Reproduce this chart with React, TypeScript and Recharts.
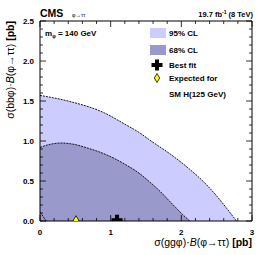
import React from "react";
import { ComposedChart, Area, Line, Scatter, XAxis, YAxis } from "recharts";

// 95% CL outer boundary (x: sigma(ggphi)B, y: sigma(bbphi)B) [pb]
const cl95 = [
  { x: 0, y: 1.57 },
  { x: 0.44, y: 1.49 },
  { x: 0.915, y: 1.35 },
  { x: 1.2, y: 1.21 },
  { x: 1.414, y: 1.1 },
  { x: 1.556, y: 1.01 },
  { x: 1.885, y: 0.81 },
  { x: 2.1, y: 0.66 },
  { x: 2.36, y: 0.45 },
  { x: 2.55, y: 0.26 },
  { x: 2.64, y: 0.16 },
  { x: 2.72, y: 0.07 },
  { x: 2.78, y: 0 },
];

// 68% CL outer boundary
const cl68 = [
  { x: 0, y: 0.92 },
  { x: 0.15, y: 0.96 },
  { x: 0.3, y: 0.975 },
  { x: 0.5, y: 0.955 },
  { x: 0.68, y: 0.91 },
  { x: 0.85, y: 0.86 },
  { x: 1.01, y: 0.8 },
  { x: 1.22, y: 0.7 },
  { x: 1.414, y: 0.59 },
  { x: 1.55, y: 0.49 },
  { x: 1.7, y: 0.37 },
  { x: 1.82, y: 0.26 },
  { x: 1.93, y: 0.16 },
  { x: 2.02, y: 0.08 },
  { x: 2.12, y: 0 },
];

// small inner 68% contour near the origin
const cl68Inner = [
  { x: 0, y: 0.11 },
  { x: 0.09, y: 0 },
];

const bestFit = [{ x: 1.09, y: 0.01 }];
const expectedSM = [{ x: 0.51, y: 0.01 }];

const xTicks = [0, 0.2, 0.4, 0.6, 0.8, 1, 1.2, 1.4, 1.6, 1.8, 2, 2.2, 2.4, 2.6, 2.8, 3];
const xMajor = [0, 1, 2, 3];
const yTicks = [
  0, 0.1, 0.2, 0.3, 0.4, 0.5, 0.6, 0.7, 0.8, 0.9, 1, 1.1, 1.2, 1.3, 1.4, 1.5, 1.6, 1.7, 1.8, 1.9, 2,
  2.1, 2.2, 2.3, 2.4, 2.5,
];
const yMajor = [0, 0.5, 1, 1.5, 2, 2.5];

const legendLabels = ["95% CL", "68% CL", "Best fit", "Expected for", "SM H(125 GeV)"];

const FONT = "'Liberation Sans', Arial, Helvetica, sans-serif";
const C95 = "#ccccff";
const C68 = "#9999cc";

const isMajor = (v: number, list: number[]) => list.some((m) => Math.abs(m - v) < 1e-6);

const bottomTick = (p: any) => {
  const { x, y, payload } = p;
  const major = isMajor(payload.value, xMajor);
  return (
    <g>
      <line x1={x} x2={x} y1={y} y2={y - (major ? 6 : 3)} stroke="#000" strokeWidth={0.8} />
      {major && (
        <text x={x} y={y + 14} textAnchor="middle" fontSize={8} fontWeight="bold" fontFamily={FONT} fill="#000">
          {String(payload.value)}
        </text>
      )}
    </g>
  );
};

const topTick = (p: any) => {
  const { x, y, payload } = p;
  const major = isMajor(payload.value, xMajor);
  return <line x1={x} x2={x} y1={y} y2={y + (major ? 6 : 3)} stroke="#000" strokeWidth={0.8} />;
};

const leftTick = (p: any) => {
  const { x, y, payload } = p;
  const major = isMajor(payload.value, yMajor);
  return (
    <g>
      <line x1={x} x2={x + (major ? 6 : 3)} y1={y} y2={y} stroke="#000" strokeWidth={0.8} />
      {major && (
        <text x={x - 6} y={y + 3} textAnchor="end" fontSize={8} fontWeight="bold" fontFamily={FONT} fill="#000">
          {Number(payload.value).toFixed(1)}
        </text>
      )}
    </g>
  );
};

const rightTick = (p: any) => {
  const { x, y, payload } = p;
  const major = isMajor(payload.value, yMajor);
  return <line x1={x} x2={x - (major ? 6 : 3)} y1={y} y2={y} stroke="#000" strokeWidth={0.8} />;
};

const Cross = ({ cx, cy }: { cx: number; cy: number }) => (
  <g>
    <rect x={cx - 5.5} y={cy - 2} width={11} height={4} fill="#000" />
    <rect x={cx - 2} y={cy - 5.5} width={4} height={11} fill="#000" />
  </g>
);

const Diamond = ({ cx, cy }: { cx: number; cy: number }) => (
  <polygon
    points={`${cx},${cy - 4.5} ${cx + 2.7},${cy} ${cx},${cy + 4.5} ${cx - 2.7},${cy}`}
    fill="#ffff00"
    stroke="#000"
    strokeWidth={0.8}
  />
);

export default function App() {
  return (
    <div style={{ position: "absolute", left: 0, top: 0, width: 266, height: 255, background: "#fff" }}>
      <ComposedChart width={266} height={255} margin={{ top: 20, right: 13, bottom: 0, left: 0 }}>
        <XAxis
          dataKey="x"
          type="number"
          domain={[0, 3]}
          ticks={xTicks}
          interval={0}
          allowDataOverflow
          height={34}
          tickSize={0}
          tickMargin={0}
          tickLine={false}
          axisLine={{ stroke: "#000", strokeWidth: 1 }}
          tick={bottomTick}
        />
        <XAxis
          xAxisId="top"
          orientation="top"
          dataKey="x"
          type="number"
          domain={[0, 3]}
          ticks={xTicks}
          interval={0}
          allowDataOverflow
          height={1}
          tickSize={0}
          tickMargin={0}
          tickLine={false}
          axisLine={{ stroke: "#000", strokeWidth: 1 }}
          tick={topTick}
        />
        <YAxis
          type="number"
          domain={[0, 2.5]}
          ticks={yTicks}
          interval={0}
          allowDataOverflow
          width={40}
          tickSize={0}
          tickMargin={0}
          tickLine={false}
          axisLine={{ stroke: "#000", strokeWidth: 1 }}
          tick={leftTick}
        />
        <YAxis
          yAxisId="right"
          orientation="right"
          type="number"
          domain={[0, 2.5]}
          ticks={yTicks}
          interval={0}
          allowDataOverflow
          width={1}
          tickSize={0}
          tickMargin={0}
          tickLine={false}
          axisLine={{ stroke: "#000", strokeWidth: 1 }}
          tick={rightTick}
        />
        <Area
          data={cl95}
          dataKey="y"
          type="monotone"
          fill={C95}
          fillOpacity={1}
          stroke="#000"
          strokeWidth={0.9}
          strokeDasharray="2 1"
          baseValue={0}
          dot={false}
          activeDot={false}
          isAnimationActive={false}
        />
        <Area
          data={cl68}
          dataKey="y"
          type="monotone"
          fill={C68}
          fillOpacity={1}
          stroke="#000"
          strokeWidth={0.9}
          strokeDasharray="2 1"
          baseValue={0}
          dot={false}
          activeDot={false}
          isAnimationActive={false}
        />
        <Area
          xAxisId="top"
          yAxisId="right"
          data={cl95}
          dataKey="y"
          type="linear"
          fill="none"
          stroke="none"
          dot={false}
          activeDot={false}
          isAnimationActive={false}
        />
        <Line
          data={cl68Inner}
          dataKey="y"
          type="linear"
          stroke="#000"
          strokeWidth={0.9}
          strokeDasharray="2 1"
          dot={false}
          activeDot={false}
          isAnimationActive={false}
        />
        <Scatter data={expectedSM} dataKey="y" shape={(p: any) => <Diamond cx={p.cx} cy={p.cy} />} isAnimationActive={false} />
        <Scatter data={bestFit} dataKey="y" shape={(p: any) => <Cross cx={p.cx} cy={p.cy} />} isAnimationActive={false} />
      </ComposedChart>
      <svg
        width={266}
        height={255}
        style={{ position: "absolute", left: 0, top: 0, pointerEvents: "none" }}
        fontFamily={FONT}
      >
        <text x={40} y={17} fontSize={10.5} fontWeight="bold" fill="#000">CMS</text>
        <text x={72} y={17} fontSize={5.5} fill="#000">φ→ττ</text>
        <text x={253} y={17} fontSize={7.5} fontWeight="bold" textAnchor="end" fill="#000">
          19.7 fb<tspan dy={-3} fontSize={5}>-1</tspan>
          <tspan dy={3}> (8 TeV)</tspan>
        </text>
        <text x={45} y={36} fontSize={8} fontWeight="bold" fill="#000">
          m<tspan dy={2} fontSize={5}>φ</tspan>
          <tspan dy={-2}> = 140 GeV</tspan>
        </text>
        {/* legend */}
        <rect x={150} y={28} width={16} height={10} fill={C95} />
        <rect x={150} y={45} width={16} height={10} fill={C68} />
        <Cross cx={157} cy={65} />
        <Diamond cx={157} cy={78} />
        <text x={169} y={36} fontSize={8} fontWeight="bold" fill="#000">{legendLabels[0]}</text>
        <text x={169} y={53} fontSize={8} fontWeight="bold" fill="#000">{legendLabels[1]}</text>
        <text x={169} y={68} fontSize={8} fontWeight="bold" fill="#000">{legendLabels[2]}</text>
        <text x={169} y={81} fontSize={8} fontWeight="bold" fill="#000">{legendLabels[3]}</text>
        <text x={169} y={97} fontSize={8} fontWeight="bold" fill="#000">{legendLabels[4]}</text>
        {/* axis titles */}
        <text x={252} y={246} fontSize={10.5} textAnchor="end" fill="#000">
          σ(ggφ)·<tspan fontStyle="italic">B</tspan>(φ→ττ) <tspan fontWeight="bold">[pb]</tspan>
        </text>
        <text x={14} y={21} fontSize={10.5} textAnchor="end" fill="#000" transform="rotate(-90 14 21)">
          σ(bbφ)·<tspan fontStyle="italic">B</tspan>(φ→ττ) <tspan fontWeight="bold">[pb]</tspan>
        </text>
      </svg>
    </div>
  );
}
